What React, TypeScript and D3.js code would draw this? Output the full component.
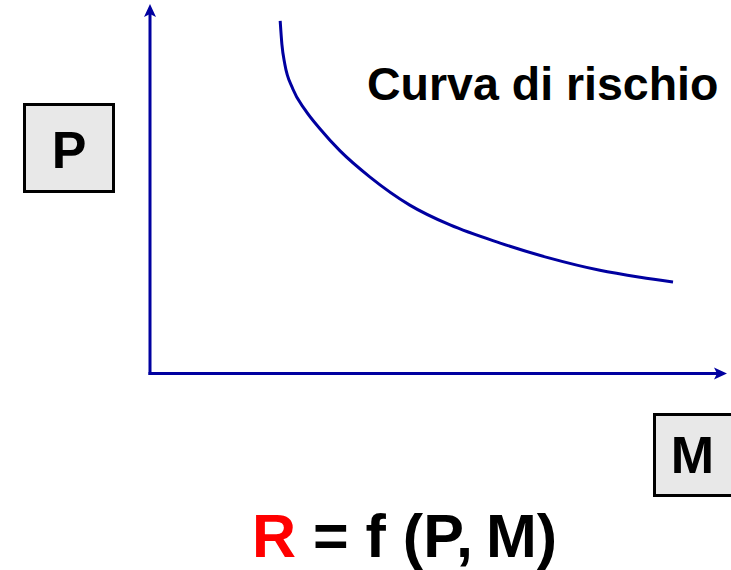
import React from "react";
import * as d3 from "d3";

// Risk curve: P (probability) vs M (magnitude), arbitrary units 0..100
const curveM = [22.6, 22.9, 23.4, 24.8, 26.9, 29.5, 33.0, 38.2, 45.1, 52.1, 60.8, 69.4, 78.1, 85.1, 90.8];
const curveP = [95.7, 89.3, 84.0, 77.2, 71.6, 66.4, 60.4, 53.3, 45.7, 40.3, 35.4, 31.3, 28.0, 26.1, 24.8];

const curveLabel = "Curva di rischio";
const yAxisLabel = "P";
const xAxisLabel = "M";
const formulaR = "R";
const formulaRest = " = f (P,";
const formulaEnd = " M)";

const W = 731;
const H = 570;
const BLUE = "#0000a0";
const FONT = "'Liberation Sans', Arial, Helvetica, sans-serif";

export default function App() {
  const x = d3.scaleLinear().domain([0, 100]).range([150, 726]);
  const y = d3.scaleLinear().domain([0, 100]).range([373.5, 5]);

  const pts: [number, number][] = curveM.map((m, i) => [m, curveP[i]]);
  const line = d3
    .line<[number, number]>()
    .x((d) => x(d[0]))
    .y((d) => y(d[1]))
    .curve(d3.curveMonotoneX);

  const x0 = x(0);
  const y0 = y(0);
  const yTop = y(100);
  const xEnd = x(100);

  return (
    <svg
      width={W}
      height={H}
      viewBox={`0 0 ${W} ${H}`}
      style={{ position: "absolute", left: 0, top: 0, background: "#fff" }}
    >
      {/* axes */}
      <line x1={x0} y1={y0 + 1.5} x2={x0} y2={yTop + 4} stroke={BLUE} strokeWidth={3} />
      <line x1={x0 - 1.5} y1={y0} x2={xEnd - 4} y2={y0} stroke={BLUE} strokeWidth={3} />
      {/* arrowheads */}
      <path
        d={`M${x0},${yTop - 1} L${x0 + 6},${yTop + 12} L${x0},${yTop + 9} L${x0 - 6},${yTop + 12} Z`}
        fill={BLUE}
      />
      <path
        d={`M${xEnd + 1},${y0} L${xEnd - 12},${y0 + 6} L${xEnd - 9},${y0} L${xEnd - 12},${y0 - 6} Z`}
        fill={BLUE}
      />

      {/* risk curve */}
      <path d={line(pts) || ""} fill="none" stroke={BLUE} strokeWidth={3} strokeLinecap="butt" />

      <text x={367} y={100} fontFamily={FONT} fontWeight="bold" fontSize={46.5} fill="#000">
        {curveLabel}
      </text>

      {/* P box */}
      <rect x={24.5} y={104.5} width={89} height={87} fill="#e8e8e8" stroke="#000" strokeWidth={3} />
      <text x={69} y={167.5} textAnchor="middle" fontFamily={FONT} fontWeight="bold" fontSize={52} fill="#000">
        {yAxisLabel}
      </text>

      {/* M box */}
      <rect x={654.5} y={414.5} width={100} height={81} fill="#e8e8e8" stroke="#000" strokeWidth={3} />
      <text x={692.5} y={473} textAnchor="middle" fontFamily={FONT} fontWeight="bold" fontSize={52} fill="#000">
        {xAxisLabel}
      </text>

      {/* formula */}
      <text x={252} y={557} fontFamily={FONT} fontWeight="bold" fontSize={61} fill="#000">
        <tspan fill="#ff0000">{formulaR}</tspan>
        <tspan>{formulaRest}</tspan>
        <tspan dx={-4}>{formulaEnd}</tspan>
      </text>
    </svg>
  );
}
